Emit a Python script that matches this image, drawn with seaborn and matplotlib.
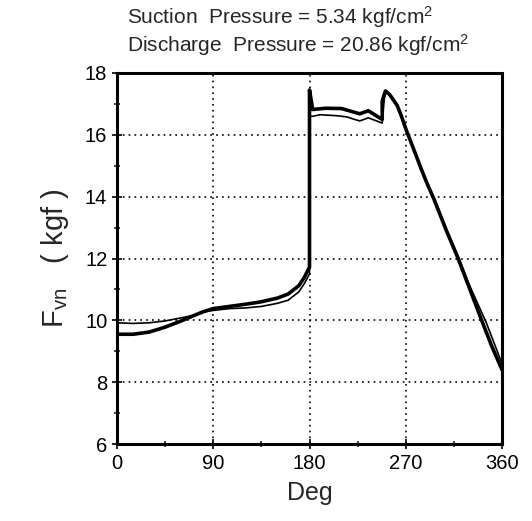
import numpy as np
import pandas as pd
import matplotlib
matplotlib.use("Agg")
import matplotlib.pyplot as plt
import seaborn as sns

# thick curve
deg_a = [0, 15, 30, 45, 60, 75, 80, 90, 105, 120, 135, 150, 160, 170, 175, 180,
         180, 183, 195, 210, 220, 227, 235, 245, 248, 248, 251, 255, 262, 266,
         270, 275, 280, 285, 290, 296, 308, 319, 330, 341, 350, 360]
val_a = [9.55, 9.55, 9.62, 9.78, 9.98, 10.2, 10.27, 10.38, 10.45, 10.52, 10.6, 10.72, 10.85, 11.12, 11.38, 11.72,
         17.45, 16.82, 16.86, 16.85, 16.75, 16.68, 16.78, 16.56, 16.5, 17.1, 17.42, 17.3, 16.95, 16.6,
         16.2, 15.75, 15.3, 14.85, 14.42, 13.95, 12.9, 12.0, 11.0, 10.0, 9.2, 8.4]
# thin curve
deg_b = [0, 15, 30, 45, 60, 70, 76, 82, 90, 105, 120, 135, 150, 160, 170, 175, 180,
         180, 183, 190, 205, 215, 222, 227, 235, 245, 248, 250, 252, 255, 262, 266,
         270, 275, 280, 285, 290, 296, 308, 319, 330, 345, 360]
val_b = [9.92, 9.9, 9.92, 9.98, 10.08, 10.15, 10.2, 10.28, 10.32, 10.38, 10.4, 10.45, 10.55, 10.65, 10.92, 11.18, 11.5,
         16.6, 16.6, 16.65, 16.62, 16.58, 16.5, 16.45, 16.55, 16.42, 16.38, 17.2, 17.4, 17.3, 16.95, 16.6,
         16.22, 15.78, 15.33, 14.88, 14.46, 14.0, 12.96, 12.07, 11.1, 9.95, 8.6]

x_ticks = [0, 90, 180, 270, 360]
y_ticks = [6, 8, 10, 12, 14, 16, 18]

sns.set_style("ticks")
plt.rcParams['font.family'] = ['Liberation Sans', 'DejaVu Sans']
plt.rcParams['mathtext.fontset'] = 'custom'
plt.rcParams['mathtext.rm'] = 'Liberation Sans'
plt.rcParams['mathtext.it'] = 'Liberation Sans'

fig = plt.figure(figsize=(5.32, 5.21), dpi=100)
ax = fig.add_axes([117/532, 77/521, 385/532, 371/521])

dfa = pd.DataFrame({"deg": deg_a, "F": val_a})
dfb = pd.DataFrame({"deg": deg_b, "F": val_b})
sns.lineplot(data=dfa, x="deg", y="F", ax=ax, color="black", linewidth=2.6, sort=False, estimator=None)
sns.lineplot(data=dfb, x="deg", y="F", ax=ax, color="black", linewidth=1.2, sort=False, estimator=None)

ax.set_xlim(0, 360)
ax.set_ylim(6, 18)
ax.set_xticks(x_ticks)
ax.set_yticks(y_ticks)
ax.set_xticks([45, 135, 225, 315], minor=True)
ax.set_yticks([7, 9, 11, 13, 15, 17], minor=True)
ax.tick_params(axis='both', which='major', direction='inout', length=7, width=1.2, labelsize=14.5, colors='black')
ax.tick_params(axis='both', which='minor', direction='inout', length=5, width=1.2)
ax.grid(True, which='major', linestyle=(0, (1, 2.5)), color='black', linewidth=1.2)
for s in ax.spines.values():
    s.set_visible(True)
    s.set_linewidth(2.2)
    s.set_color('black')

ax.set_xlabel("Deg", fontsize=18, labelpad=6)
ax.set_ylabel(r"F$_{\mathregular{vn}}$   ( kgf )", fontsize=21, labelpad=10)

fig.text(127/532, 1 - 24/521, "Suction  Pressure = 5.34 kgf/cm$^2$", fontsize=15, ha='left', va='baseline')
fig.text(127/532, 1 - 52/521, "Discharge  Pressure = 20.86 kgf/cm$^2$", fontsize=15, ha='left', va='baseline')

fig.savefig("out.png", dpi=100)
